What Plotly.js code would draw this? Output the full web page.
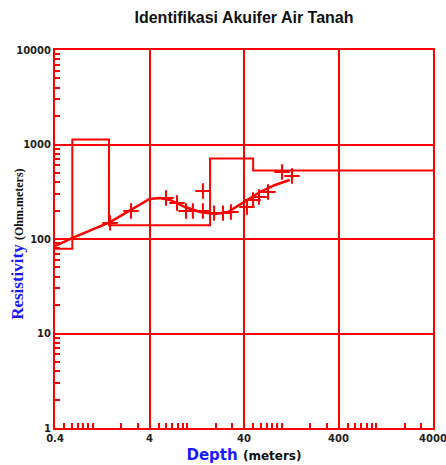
<!DOCTYPE html>
<html>
<head>
<meta charset="utf-8">
<script src="https://cdn.plot.ly/plotly-3.0.1.min.js"></script>
<style>html,body{margin:0;padding:0;background:#fff;}#chart{width:446px;height:465px;}</style>
</head>
<body>
<div id="chart"></div>
<script>
// Layer model (step)
const layerDepth = [0.4, 0.61, 1.49, 17.5, 50, 4000];
const layerRho = [79, 1130, 140, 711, 531, 531];
// Calculated curve
const fitDepth = [0.4, 0.605, 1.53, 2.55, 4, 5.16, 6.6, 9.5, 13.7, 19.7, 27, 40, 58.9, 85, 122];
const fitRho = [84, 102, 151, 203, 265, 271, 259, 218, 193, 184, 193, 246, 314, 373, 421];
// Measured points
const measDepth = [1.53, 2.55, 5.98, 7.82, 9.73, 11.5, 14.7, 14.7, 19.3, 24.0, 29.1, 43, 49.8, 57.7, 71.8, 101, 128.8];
const measRho = [148, 198, 272, 240, 198, 198, 322, 198, 188, 188, 193, 218, 259, 278, 314, 512, 464];
// Ticks
const xTicks = [0.4, 4, 40, 400, 4000];
const xTickText = ['0.4', '4', '40', '400', '4000'];
const yTicks = [1, 10, 100, 1000, 10000];
const yTickText = ['1', '10', '100', '1000', '10000'];

function minorVals(lo, hi) {
  const out = [];
  for (let e = -2; e <= 4; e++) {
    for (let k = 1; k <= 9; k++) {
      const v = k * Math.pow(10, e);
      if (v > lo * 1.0001 && v < hi * 0.9999) out.push(v);
    }
  }
  return out;
}

const red = '#ff0000';
const traces = [
  {x: layerDepth, y: layerRho, mode: 'lines', line: {color: red, width: 2, shape: 'hv'}, hoverinfo: 'skip'},
  {x: fitDepth, y: fitRho, mode: 'lines', line: {color: red, width: 2.5}, hoverinfo: 'skip'},
  {x: measDepth, y: measRho, mode: 'markers', marker: {symbol: 'cross-thin', size: 11, color: red, line: {color: red, width: 2}}, hoverinfo: 'skip'}
];

const tickFont = {family: 'DejaVu Sans, sans-serif', size: 10, color: '#222', weight: 'bold'};
const layout = {
  width: 446, height: 465,
  margin: {l: 55, r: 13, t: 50, b: 37},
  paper_bgcolor: '#fff', plot_bgcolor: '#fff',
  showlegend: false,
  title: {text: '<b>Identifikasi Akuifer Air Tanah</b>', xref: 'paper', x: 0.5, xanchor: 'center', y: 0.963, yanchor: 'middle',
          font: {family: 'Liberation Sans, Arial, sans-serif', size: 16, color: '#111'}},
  xaxis: {
    type: 'log', range: [Math.log10(0.4), Math.log10(4000) + 1e-6],
    tickmode: 'array', tickvals: xTicks, ticktext: xTickText,
    ticks: '', tickfont: tickFont, ticklabeloverflow: 'allow',
    showgrid: true, gridcolor: red, gridwidth: 2,
    showline: true, linecolor: red, linewidth: 2, mirror: true,
    zeroline: false,
    minor: {tickmode: 'array', tickvals: minorVals(0.4, 4000), ticks: 'inside', ticklen: 5, tickwidth: 2, tickcolor: red, showgrid: false},
    title: {text: "<b><span style='color:#1a1aff;font-size:15px'>Depth</span> <span style='font-size:12px'>(meters)</span></b>",
            font: {family: 'DejaVu Sans, sans-serif', size: 15, color: '#111'}, standoff: 6}
  },
  yaxis: {
    type: 'log', range: [0, 4],
    tickmode: 'array', tickvals: yTicks, ticktext: yTickText,
    ticks: '', tickfont: tickFont, ticklabeloverflow: 'allow',
    showgrid: true, gridcolor: red, gridwidth: 2,
    showline: true, linecolor: red, linewidth: 2, mirror: true,
    zeroline: false,
    minor: {tickmode: 'array', tickvals: minorVals(1, 10000), ticks: 'inside', ticklen: 5, tickwidth: 2, tickcolor: red, showgrid: false}
  },
  annotations: [{
    text: "<b><span style='color:#1a1aff;font-size:17px'>Resistivity</span> <span style='font-size:12px'>(Ohm.meters)</span></b>",
    font: {family: 'Liberation Serif, serif', size: 17, color: '#111'},
    textangle: -90, showarrow: false,
    xref: 'paper', yref: 'paper', x: -0.1, y: 0.485, xanchor: 'center', yanchor: 'middle'
  }]
};

Plotly.newPlot('chart', traces, layout, {displayModeBar: false, staticPlot: true});
</script>
</body>
</html>
